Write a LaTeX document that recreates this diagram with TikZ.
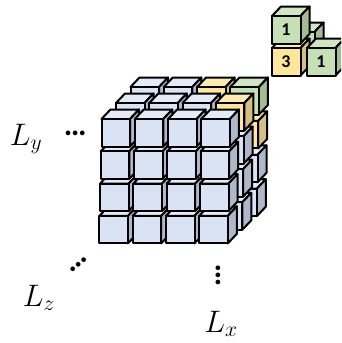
\documentclass[tikz,border=0pt]{standalone}
\usepackage{fontspec}
\newfontfamily\numfont{Carlito}
\newfontfamily\dotfont{Poppins}
\definecolor{bF}{HTML}{DAE3F3}\definecolor{bT}{HTML}{E4EAF6}\definecolor{bS}{HTML}{ADB9CA}
\definecolor{yF}{HTML}{FFE699}\definecolor{yT}{HTML}{FFEBB0}\definecolor{yS}{HTML}{D6C07E}
\definecolor{gF}{HTML}{C5E0B4}\definecolor{gT}{HTML}{D0E6C2}\definecolor{gS}{HTML}{A3BC92}
\tikzset{
 cubeline/.style={draw=black,line width=2pt,line join=round},
 axislabel/.style={font=\fontsize{27}{32}\selectfont,inner sep=0pt,scale=1.25},
 numlabel/.style={font=\numfont\bfseries\fontsize{18}{20}\selectfont,inner sep=0pt},
 dotlabel/.style={font=\dotfont\fontsize{38}{40}\selectfont,inner sep=0pt},
}
\newcommand{\mycube}[3]{% x, y, colour prefix
 \fill[#3T,cubeline] (#1,#2) -- ++(9,-9.5) -- ++(28.5,0) -- ++(-9,9.5) -- cycle;
 \fill[#3S,cubeline] (#1+28.5,#2) -- ++(9,-9.5) -- ++(0,27.5) -- ++(-9,9.5) -- cycle;
 \fill[#3F,cubeline] (#1,#2) rectangle ++(28.5,27.5);
}
\begin{document}
\begin{tikzpicture}[x=1pt,y=-1pt]
\useasboundingbox (0,0) rectangle (341,343);
\clip (0,0) rectangle (341,343);
% the block, back layer first
\foreach \l in {2,1,0}{
 \foreach \r in {3,2,1,0}{
  \foreach \c in {0,1,2,3}{
   \pgfmathsetmacro{\px}{101.5+33.3*\c+14.5*\l-0.7*\r}
   \pgfmathsetmacro{\py}{119+32.3*\r-(16-0.8*\r)*\l}
   \def\col{b}
   \ifnum\r=0
     \ifnum\l=2 \ifnum\c=3 \def\col{g}\fi\ifnum\c=2 \def\col{y}\fi\fi
     \ifnum\l=1 \ifnum\c=3 \def\col{y}\fi\fi
   \fi
   \ifnum\r=1 \ifnum\l=2 \ifnum\c=3 \def\col{y}\fi\fi\fi
   \mycube{\px}{\py}{\col}
  }
 }
}
% small cluster
\mycube{286}{32}{g}
\mycube{272}{48}{y}
\mycube{307}{48}{g}
\mycube{272}{16}{g}
\node[numlabel] (n1) at (286,30) {1};
\node[numlabel] (n3) at (286,62) {3};
\node[numlabel] (n2) at (321,62) {1};
% labels
\node[axislabel] (ly) at (26,139) {$L_y$};
\node[axislabel] (lz) at (39,298) {$L_z$};
\node[axislabel] (lx) at (221,324) {$L_x$};
\node[dotlabel] (d1) at (76,133) {…};
\node[dotlabel,rotate=40] (d2) at (79,265) {…};
\node[dotlabel,rotate=90] (d3) at (218,275) {…};
\end{tikzpicture}
\end{document}
